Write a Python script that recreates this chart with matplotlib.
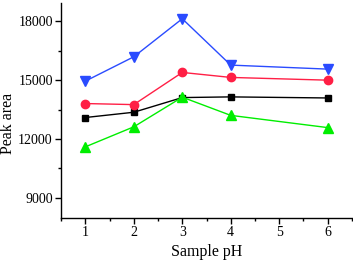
import matplotlib

matplotlib.use("Agg")
import matplotlib.pyplot as plt
from matplotlib.ticker import MultipleLocator

ph = [1, 2, 3, 4, 6]
black_sq = [13090, 13360, 14110, 14145, 14090]
red_circle = [13805, 13750, 15395, 15140, 15000]
blue_down = [14950, 16195, 18140, 15770, 15565]
green_up = [11590, 12615, 14130, 13200, 12575]

x_ticks = [1, 2, 3, 4, 5, 6]
y_ticks = [9000, 12000, 15000, 18000]

plt.rcParams["font.family"] = ["Liberation Serif", "DejaVu Serif"]

fig = plt.figure(figsize=(3.53, 2.64), dpi=100)
ax = fig.add_axes([0.173, 0.174, 0.824, 0.815])

ax.plot(ph, black_sq, color="#000000", marker="s", ms=5, lw=1)
ax.plot(ph, red_circle, color="#FF1F45", marker="o", ms=6, lw=1)
ax.plot(ph, blue_down, color="#2A4BFF", marker="v", ms=6.5, lw=1)
ax.plot(ph, green_up, color="#00EE00", marker="^", ms=6.5, lw=1)

ax.set_xlim(0.5, 6.5)
ax.set_ylim(7950, 18950)
ax.set_xticks(x_ticks)
ax.set_yticks(y_ticks)
ax.xaxis.set_minor_locator(MultipleLocator(0.5))
ax.yaxis.set_minor_locator(MultipleLocator(1500))
ax.tick_params(which="major", direction="out", length=4, width=1, labelsize=10, pad=2)
ax.tick_params(which="minor", direction="out", length=2.5, width=1)
for side in ("top", "right"):
    ax.spines[side].set_visible(False)
for side in ("left", "bottom"):
    ax.spines[side].set_linewidth(1)

ax.set_xlabel("Sample pH", fontsize=11.5)
ax.set_ylabel("Peak area", fontsize=11.5)
ax.xaxis.set_label_coords(0.5, -0.12)
ax.yaxis.set_label_coords(-0.155, 0.44)

fig.savefig("out.png", dpi=100)
